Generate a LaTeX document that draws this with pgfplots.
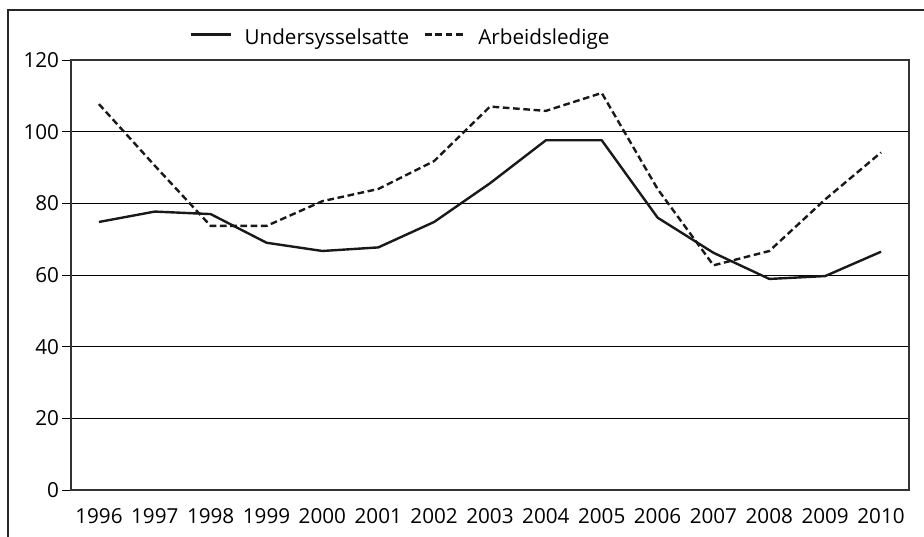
\documentclass[border=0pt]{standalone}
\usepackage{pgfplots}
\pgfplotsset{compat=1.18}
\usepackage{fontspec}
\setmainfont{Open Sans}
\begin{document}
\begin{tikzpicture}
\useasboundingbox (0,0) rectangle (693pt,402pt);
\clip (0,0) rectangle (693pt,402pt);
\draw[line width=2pt, color=black!85] (6pt,-20pt) -- (6pt,394.5pt) -- (720pt,394.5pt);
\begin{axis}[
  at={(53.25pt,34.5pt)}, anchor=south west,
  scale only axis, width=628.5pt, height=322.5pt,
  xmin=1995.5, xmax=2010.5, ymin=0, ymax=120,
  xtick={1996,1997,...,2010},
  ytick={0,20,...,120},
  xticklabel style={/pgf/number format/1000 sep={}, font=\fontsize{15.5}{18}\selectfont, yshift=-4pt},
  yticklabel style={font=\fontsize{15.5}{18}\selectfont, xshift=1pt},
  /pgf/number format/assume math mode=true,
  major x tick style={draw=none},
  tick align=outside, major tick length=6.5pt,
  ytick pos=left,
  ymajorgrids, grid style={black, line width=0.7pt},
  axis line style={black!80, line width=0.8pt},
  tick style={black, line width=0.7pt},
  legend style={at={(0.394,1.053)}, anchor=center, draw=none, fill=none,
     font=\fontsize{15.5}{18}\selectfont, legend columns=2,
     /tikz/every even column/.append style={column sep=9pt}},
  legend image code/.code={\draw[#1] (0cm,0.07cm) -- (1.05cm,0.07cm); \path (1.3cm,0cm);},
]
\addplot[black!90, line width=1.8pt, line join=round] coordinates {
(1996,74.8) (1997,77.7) (1998,77.0) (1999,69.0) (2000,66.7) (2001,67.7)
(2002,74.8) (2003,85.6) (2004,97.6) (2005,97.6) (2006,76.0) (2007,66.2)
(2008,58.9) (2009,59.7) (2010,66.5)};
\addlegendentry{Undersysselsatte}
\addplot[black!90, line width=1.8pt, dash pattern=on 5pt off 2.7pt] coordinates {
(1996,107.7) (1997,90.5) (1998,73.7) (1999,73.7) (2000,80.6) (2001,84.0)
(2002,91.8) (2003,107.0) (2004,105.8) (2005,110.8) (2006,84.0) (2007,62.7)
(2008,66.7) (2009,81.1) (2010,94.2)};
\addlegendentry{Arbeidsledige}
\end{axis}
\end{tikzpicture}
\end{document}
